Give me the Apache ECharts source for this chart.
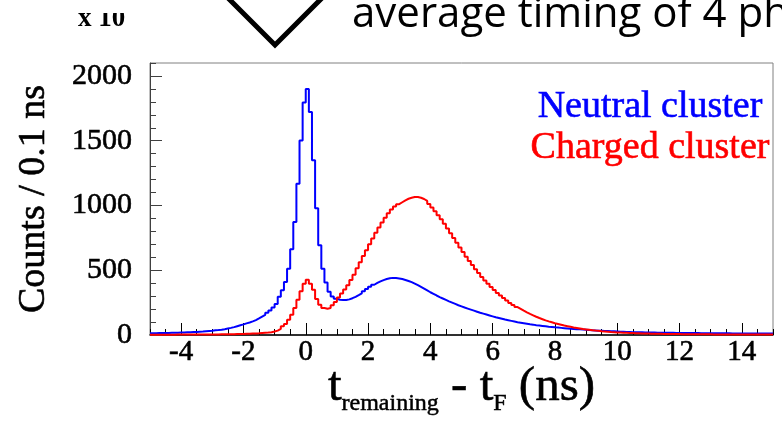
<!DOCTYPE html>
<html>
<head>
<meta charset="utf-8">
<script src="https://cdn.jsdelivr.net/npm/echarts@6/dist/echarts.min.js"></script>
<style>
  html, body { margin: 0; padding: 0; background: #fff; }
  #chart { width: 782px; height: 423px; }
</style>
</head>
<body>
<div id="chart"></div>
<script>
// ---- Data (histograms, 0.1 ns bins from -5 to 15) ----
const binStart = -5;
const binWidth = 0.1;

// Neutral cluster (blue), one value per bin, bins starting at -5.0, -4.9, ...
const neutral = [
  14, 14, 15, 15, 16, 16, 17, 17, 18, 19,            // -5.0 .. -4.1
  20, 21, 22, 23, 24, 26, 27, 29, 31, 33,            // -4.0 .. -3.1
  36, 38, 41, 45, 50, 55, 61, 68, 75, 82,            // -3.0 .. -2.1
  90, 97, 105, 115, 128, 142, 156, 172, 190, 212,    // -2.0 .. -1.1
  240, 295, 345, 410, 512, 662, 872, 1168, 1502, 1795, // -1.0 .. -0.1
  1900, 1722, 1350, 978, 692, 511, 405, 333, 298, 280, // 0.0 .. 0.9
  272, 270, 271, 275, 284, 295, 308, 322, 338, 355,  // 1.0 .. 1.9
  372, 388, 402, 414, 424, 432, 438, 441, 440, 437,  // 2.0 .. 2.9
  432, 425, 417, 408, 397, 385, 372, 358, 344, 330,  // 3.0 .. 3.9
  318, 305, 293, 282, 271, 260, 250, 240, 230, 221,  // 4.0 .. 4.9
  212, 204, 196, 188, 180, 172, 165, 158, 151, 144,  // 5.0 .. 5.9
  137, 131, 125, 119, 114, 109, 104, 99, 95, 91,     // 6.0 .. 6.9
  87, 83, 80, 76, 73, 70, 67, 64, 62, 59,            // 7.0 .. 7.9
  57, 55, 53, 51, 49, 47, 45, 44, 42, 40,            // 8.0 .. 8.9
  38, 36, 35, 33, 32, 31, 30, 29, 28, 27,            // 9.0 .. 9.9
  26, 25, 24, 23, 22, 22, 21, 21, 20, 20,            // 10.0 .. 10.9
  19, 19, 18, 18, 18, 17, 17, 17, 16, 16,            // 11.0 .. 11.9
  16, 16, 15, 15, 15, 15, 14, 14, 14, 14,            // 12.0 .. 12.9
  14, 13, 13, 13, 13, 13, 12, 12, 12, 12,            // 13.0 .. 13.9
  12, 12, 12, 11, 11, 11, 11, 11, 11, 11             // 14.0 .. 14.9
];

// Charged cluster (red)
const charged = [
  2, 2, 2, 2, 2, 2, 2, 2, 3, 3,                      // -5.0 .. -4.1
  3, 3, 3, 3, 3, 3, 4, 4, 4, 4,                      // -4.0 .. -3.1
  4, 4, 5, 5, 5, 6, 6, 7, 7, 8,                      // -3.0 .. -2.1
  9, 10, 11, 12, 13, 15, 17, 19, 22, 27,             // -2.0 .. -1.1
  34, 48, 67, 85, 118, 157, 209, 273, 337, 396,      // -1.0 .. -0.1
  427, 396, 350, 278, 234, 209, 203, 208, 229, 255,  // 0.0 .. 0.9
  290, 320, 352, 385, 425, 465, 515, 562, 610, 655,  // 1.0 .. 1.9
  700, 745, 790, 830, 868, 905, 940, 968, 992, 1010, // 2.0 .. 2.9
  1025, 1040, 1052, 1060, 1066, 1066, 1060, 1050, 1035, 1012, // 3.0 .. 3.9
  985, 955, 925, 893, 858, 822, 785, 748, 712, 675,  // 4.0 .. 4.9
  640, 605, 572, 540, 508, 478, 448, 420, 395, 370,  // 5.0 .. 5.9
  347, 325, 305, 285, 266, 248, 232, 216, 202, 188,  // 6.0 .. 6.9
  175, 163, 152, 141, 131, 122, 113, 105, 98, 91,    // 7.0 .. 7.9
  85, 79, 73, 68, 63, 58, 54, 50, 46, 43,            // 8.0 .. 8.9
  40, 37, 34, 32, 29, 27, 25, 23, 22, 20,            // 9.0 .. 9.9
  19, 18, 17, 16, 15, 14, 13, 12, 12, 11,            // 10.0 .. 10.9
  10, 10, 9, 9, 8, 8, 8, 7, 7, 7,                    // 11.0 .. 11.9
  6, 6, 6, 6, 5, 5, 5, 5, 5, 5,                      // 12.0 .. 12.9
  4, 4, 4, 4, 4, 4, 4, 4, 3, 3,                      // 13.0 .. 13.9
  3, 3, 3, 3, 3, 3, 3, 3, 3, 3                       // 14.0 .. 14.9
];

const xTickLabels = [-4, -2, 0, 2, 4, 6, 8, 10, 12, 14];
const yTickLabels = [0, 500, 1000, 1500, 2000];
const seriesNames = ['Neutral cluster', 'Charged cluster'];

// ---- build step data: a point at each bin's left edge, plus the right end ----
function toSteps(values) {
  const pts = values.map((v, i) => [+(binStart + i * binWidth).toFixed(2), v]);
  pts.push([+(binStart + values.length * binWidth).toFixed(2), values[values.length - 1]]);
  return pts;
}

const SERIF = "'Liberation Serif', 'Times New Roman', serif";

const chart = echarts.init(document.getElementById('chart'), null, { renderer: 'canvas' });

const option = {
  animation: false,
  backgroundColor: '#ffffff',
  grid: {
    left: 150, right: 9, top: 63, bottom: 88,
    outerBoundsMode: 'none', containLabel: false,
    show: true, borderColor: '#808080', borderWidth: 1, backgroundColor: 'transparent'
  },
  xAxis: [
    {
      type: 'value', min: -5, max: 15, interval: 0.5, position: 'bottom',
      axisLine: { show: true, onZero: false, lineStyle: { color: '#000', width: 1.5 } },
      axisTick: { show: true, inside: true, length: 6, lineStyle: { color: '#000', width: 1 } },
      axisLabel: {
        show: true, customValues: xTickLabels, margin: 3,
        fontFamily: SERIF, fontSize: 29, color: '#000',
        textBorderColor: '#000', textBorderWidth: 0.6,
        formatter: v => String(v)
      },
      splitLine: { show: false },
      name: '{m|t}{s|remaining}{m| - t}{s|F}{m| (ns)}',
      nameLocation: 'middle', nameGap: 23, nameMoveOverlap: false,
      nameTextStyle: {
        rich: {
          m: { fontFamily: SERIF, fontSize: 49, color: '#000', lineHeight: 58, verticalAlign: 'middle',
               textBorderColor: '#000', textBorderWidth: 0.6 },
          s: { fontFamily: SERIF, fontSize: 24, color: '#000', verticalAlign: 'bottom',
               textBorderColor: '#000', textBorderWidth: 0.5 }
        }
      }
    },
    {
      type: 'value', min: -5, max: 15, position: 'bottom',
      axisLine: { show: false, onZero: false },
      axisTick: { show: true, inside: true, length: 12, customValues: xTickLabels, lineStyle: { color: '#000', width: 1 } },
      axisLabel: { show: false },
      splitLine: { show: false }
    }
  ],
  yAxis: [
    {
      type: 'value', min: 0, max: 2100, interval: 100, position: 'left',
      axisLine: { show: true, onZero: false, lineStyle: { color: '#404040', width: 1 } },
      axisTick: { show: true, inside: true, length: 6, lineStyle: { color: '#404040', width: 1 } },
      axisLabel: {
        show: true, customValues: yTickLabels, margin: 18,
        fontFamily: SERIF, fontSize: 30, color: '#000',
        textBorderColor: '#000', textBorderWidth: 0.6,
        formatter: v => String(v)
      },
      splitLine: { show: false },
      name: 'Counts / 0.1 ns',
      nameLocation: 'middle', nameGap: 97, nameMoveOverlap: false,
      nameTextStyle: { fontFamily: SERIF, fontSize: 38, color: '#000', textBorderColor: '#000', textBorderWidth: 0.6 }
    },
    {
      type: 'value', min: 0, max: 2100, position: 'left',
      axisLine: { show: false, onZero: false },
      axisTick: { show: true, inside: true, length: 12, customValues: yTickLabels, lineStyle: { color: '#404040', width: 1 } },
      axisLabel: { show: false },
      splitLine: { show: false }
    }
  ],
  series: [
    {
      name: seriesNames[0], type: 'line', step: 'end', showSymbol: false, symbol: 'none',
      xAxisIndex: 0, yAxisIndex: 0,
      data: toSteps(neutral),
      lineStyle: { color: '#0000ff', width: 2 }, itemStyle: { color: '#0000ff' },
      z: 3
    },
    {
      name: seriesNames[1], type: 'line', step: 'end', showSymbol: false, symbol: 'none',
      xAxisIndex: 0, yAxisIndex: 0,
      data: toSteps(charged),
      lineStyle: { color: '#ff0000', width: 2 }, itemStyle: { color: '#ff0000' },
      z: 4
    }
  ],
  graphic: [
    {
      type: 'text', x: 650, y: 107, z: 10,
      style: { text: seriesNames[0], fill: '#0000ff', stroke: '#0000ff', lineWidth: 0.6,
               font: "38px 'Liberation Serif', serif", textAlign: 'center', textVerticalAlign: 'middle' }
    },
    {
      type: 'text', x: 650, y: 148, z: 10,
      style: { text: seriesNames[1], fill: '#ff0000', stroke: '#ff0000', lineWidth: 0.6,
               font: "38px 'Liberation Serif', serif", textAlign: 'center', textVerticalAlign: 'middle' }
    },
    {
      type: 'text', x: 78, y: 19, z: 10,
      style: { text: 'x 10', fill: '#000', font: "bold 27px 'Liberation Serif', serif", textAlign: 'left', textVerticalAlign: 'middle' }
    },
    {
      type: 'rect', shape: { x: 70, y: 0, width: 70, height: 13 }, z: 11,
      style: { fill: '#ffffff' }
    },
    {
      type: 'polyline', z: 10,
      shape: { points: [[226, -4], [275, 45], [324, -4]] },
      style: { stroke: '#000', lineWidth: 5, fill: null }
    },
    {
      type: 'text', x: 352, y: 15, z: 10,
      style: { text: 'average timing of 4 ph', fill: '#000', font: "42px 'Open Sans', sans-serif", textAlign: 'left', textVerticalAlign: 'middle' }
    }
  ]
};

chart.setOption(option);
</script>
</body>
</html>
